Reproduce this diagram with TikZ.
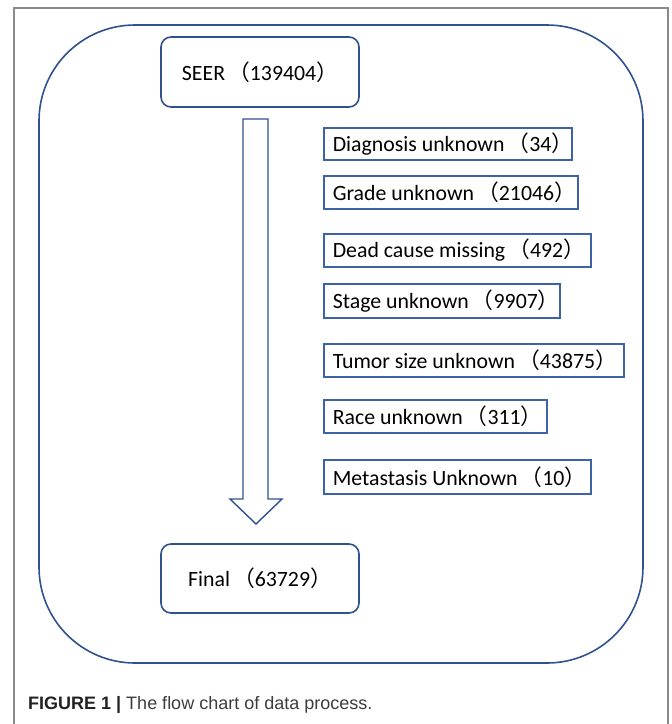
\documentclass[tikz,border=0pt]{standalone}
\usepackage{fontspec}
\setmainfont{Carlito}
\newfontfamily\cjkf{Noto Sans CJK SC}
\newfontfamily\capf{Liberation Sans}
\definecolor{boxblue}{HTML}{2F528F}
\definecolor{sideblue}{HTML}{3D62A6}
\definecolor{framegray}{HTML}{8A8A8A}
\definecolor{capdark}{HTML}{222222}
\definecolor{capgray}{HTML}{3C3C3C}
\newcommand{\Lpz}{\hspace{3pt}{\cjkf （}}
\newcommand{\Rpz}{{\cjkf ）}}
% \SideBox{name}{left}{top}{width}{height}{text}
\newcommand{\SideBox}[6]{%
  \node[sidebox,anchor=north west,minimum width=#4pt,minimum height=#5pt] (#1) at (#2,#3)
    {\makebox[\dimexpr #4pt-18pt\relax][l]{#6}};}
\begin{document}
\begin{tikzpicture}[x=1pt,y=-1pt,
  boxfont/.style={font=\fontsize{21.8}{24}\selectfont},
  mainbox/.style={draw=boxblue,line width=1.6pt,rounded corners=10pt,
    minimum width=198pt,inner sep=0pt,boxfont},
  sidebox/.style={draw=sideblue,line width=1.6pt,inner xsep=9pt,inner ysep=0pt,boxfont},
  blockarrow/.style={draw=boxblue,line width=1.4pt,line join=miter,fill=white}]
\useasboundingbox (0,0) rectangle (672,724);
% figure frame
\draw[framegray,line width=1.5pt] (14,724) -- (14,8) -- (668,8) -- (668,724);
% big rounded container
\draw[boxblue,line width=1.6pt,rounded corners=96pt] (39,25) rectangle (643,663);
% main boxes
\node[mainbox,minimum height=70pt] (seer) at (260,72) {SEER\Lpz 139404\Rpz};
\node[mainbox,minimum height=69pt] (final) at (260,578.5) {Final\Lpz 63729\Rpz};
% block arrow
\draw[blockarrow] (243,119) -- (268,119) -- (268,499) -- (282,499) -- (256,524)
  -- (230,499) -- (243,499) -- cycle;
% side boxes
\SideBox{diag}{323}{127}{248}{32}{Diagnosis unknown\Lpz 34\Rpz}
\SideBox{grade}{323}{175}{254}{33}{Grade unknown\Lpz 21046\Rpz}
\SideBox{dead}{323}{233}{267}{33}{Dead cause missing\Lpz 492\Rpz}
\SideBox{stage}{323}{283}{236}{34}{Stage unknown\Lpz 9907\Rpz}
\SideBox{tumor}{323}{343}{300}{33}{Tumor size unknown\Lpz 43875\Rpz}
\SideBox{race}{323}{399}{223}{33}{Race unknown\Lpz 311\Rpz}
\SideBox{meta}{323}{459}{267}{34}{Metastasis Unknown\Lpz 10\Rpz}
% caption
\node[anchor=west,inner sep=0pt,font=\capf\fontsize{18}{20}\selectfont] (cap) at (28,705)
  {\textcolor{capdark}{\bfseries FIGURE 1 |} \textcolor{capgray}{The flow chart of data process.}};
\end{tikzpicture}
\end{document}
